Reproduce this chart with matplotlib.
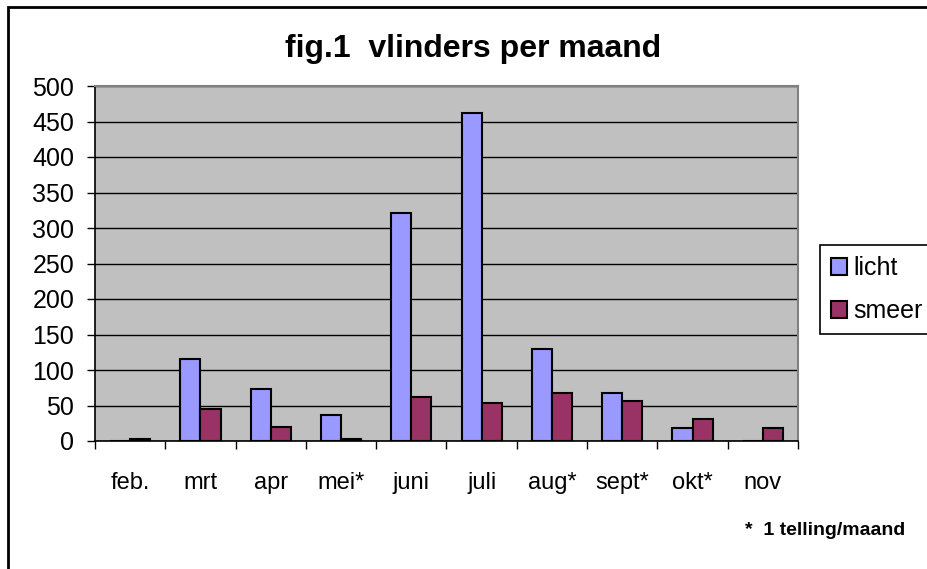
import numpy as np
from matplotlib import pyplot as plt
from matplotlib.patches import Rectangle

months = ["feb.", "mrt", "apr", "mei*", "juni", "juli", "aug*", "sept*", "okt*", "nov"]
licht = [0, 115, 73, 37, 321, 462, 130, 67, 19, 0]
smeer = [3, 45, 20, 3, 62, 53, 67, 56, 31, 19]

plt.rcParams["font.family"] = ["Liberation Sans", "DejaVu Sans"]

fig = plt.figure(figsize=(9.28, 5.69), dpi=100)
ax = fig.add_axes([95 / 928, 1 - 441 / 569, (798 - 95) / 928, (441 - 86) / 569])
ax.set_facecolor("#C0C0C0")

x = np.arange(len(months))
w = 0.286
ax.bar(x - w / 2, licht, w, color="#9999FF", edgecolor="black", linewidth=1.5, label="licht", zorder=3)
ax.bar(x + w / 2, smeer, w, color="#993366", edgecolor="black", linewidth=1.5, label="smeer", zorder=3)

ax.set_xlim(-0.5, len(months) - 0.5)
ax.set_ylim(0, 500)
ax.set_yticks(range(0, 501, 50))
ax.yaxis.grid(True, color="black", linewidth=1, zorder=1)
ax.set_axisbelow(True)

# labels at the centres, tick marks on the category boundaries
ax.set_xticks(x)
ax.set_xticklabels(months)
ax.set_xticks(np.arange(-0.5, len(months), 1), minor=True)
ax.tick_params(axis="x", which="major", length=0, pad=22, labelsize=17)
ax.tick_params(axis="x", which="minor", length=6, width=1, direction="out")
ax.tick_params(axis="y", length=6, width=1, pad=9, labelsize=18)

for s in ["top", "right"]:
    ax.spines[s].set_color("#808080")
    ax.spines[s].set_linewidth(1.5)
for s in ["left", "bottom"]:
    ax.spines[s].set_color("black")
    ax.spines[s].set_linewidth(1.2)

leg = fig.legend(loc="upper left", bbox_to_anchor=(820 / 928, 1 - 245 / 569),
                 borderaxespad=0, fontsize=18, frameon=True, fancybox=False,
                 framealpha=1, edgecolor="black", handlelength=0.65, handleheight=0.65,
                 handletextpad=0.25, labelspacing=0.75, borderpad=0.45)
leg.get_frame().set_linewidth(1.2)

fig.text(473 / 928, 1 - 57 / 569, "fig.1  vlinders per maand", ha="center", va="baseline",
         fontsize=23, fontweight="bold")
fig.text(745 / 928, 1 - 535 / 569, "*  1 telling/maand", ha="left", va="baseline",
         fontsize=14, fontweight="bold")

fig.patches.append(Rectangle((8 / 928, -0.1), 1.2, 1.1 - 7 / 569, transform=fig.transFigure,
                             fill=False, edgecolor="black", linewidth=2))

fig.savefig("out.png", dpi=100)
